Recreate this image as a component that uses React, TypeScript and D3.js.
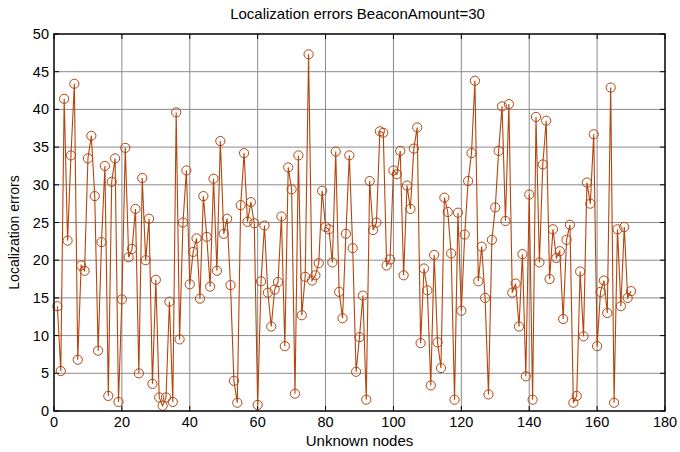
import React from "react";
import * as d3 from "d3";

const title = "Localization errors BeaconAmount=30";
const xLabel = "Unknown nodes";
const yLabel = "Localization errors";
const xTicks = [0, 20, 40, 60, 80, 100, 120, 140, 160, 180];
const yTicks = [0, 5, 10, 15, 20, 25, 30, 35, 40, 45, 50];

const errors = [
  13.9, 5.3, 41.4, 22.6, 33.9, 43.4, 6.8, 19.3, 18.6, 33.5,
  36.5, 28.5, 8.0, 22.4, 32.5, 2.0, 30.4, 33.5, 1.2, 14.8,
  34.9, 20.4, 21.5, 26.8, 5.0, 30.9, 20.0, 25.5, 3.6, 17.4,
  1.8, 0.7, 1.8, 14.5, 1.2, 39.6, 9.5, 25.0, 31.9, 16.8,
  21.1, 22.9, 14.9, 28.5, 23.1, 16.5, 30.8, 18.6, 35.8, 23.5,
  25.5, 16.7, 4.0, 1.1, 27.3, 34.2, 25.1, 27.7, 24.9, 0.8,
  17.2, 24.6, 15.7, 11.2, 16.1, 17.1, 25.8, 8.6, 32.3, 29.4,
  2.3, 33.9, 12.7, 17.8, 47.3, 17.3, 18.0, 19.6, 29.2, 24.4,
  24.1, 19.7, 34.4, 15.8, 12.3, 23.5, 33.9, 21.6, 5.2, 9.8,
  15.3, 1.5, 30.5, 24.0, 25.0, 37.1, 36.9, 19.3, 20.1, 31.9,
  31.4, 34.5, 18.0, 29.9, 26.8, 34.8, 37.6, 9.0, 18.9, 16.0,
  3.4, 20.7, 9.1, 5.7, 28.3, 26.4, 20.9, 1.5, 26.3, 13.3,
  23.4, 30.5, 34.2, 43.8, 17.2, 21.8, 15.0, 2.2, 22.7, 27.0,
  34.5, 40.4, 25.2, 40.7, 15.7, 16.9, 11.2, 20.8, 4.6, 28.7,
  1.5, 39.0, 19.7, 32.7, 38.5, 17.5, 24.1, 20.3, 21.2, 12.2,
  22.7, 24.7, 1.1, 2.0, 18.5, 9.9, 30.3, 27.5, 36.7, 8.6,
  15.8, 17.3, 13.0, 42.9, 1.1, 24.1, 13.9, 24.4, 15.0, 15.9,
];

const W = 680;
const H = 452;
const M = { left: 54, right: 665, top: 34, bottom: 411 };
const color = "#b5450e";
const font = "'Liberation Sans', Arial, Helvetica, sans-serif";

export default function App() {
  const x = d3.scaleLinear().domain([0, 180]).range([M.left, M.right]);
  const y = d3.scaleLinear().domain([0, 50]).range([M.bottom, M.top]);
  const pts = errors.map((v, i) => [i + 1, v] as [number, number]);
  const line = d3
    .line<[number, number]>()
    .x((d) => x(d[0]))
    .y((d) => y(d[1]));
  const tickLen = 5;

  return (
    <svg
      width={W}
      height={H}
      style={{ position: "absolute", left: 0, top: 0, background: "#fff" }}
      fontFamily={font}
    >
      <rect x={0} y={0} width={W} height={H} fill="#fff" />
      {xTicks.slice(1, -1).map((t) => (
        <line key={"gx" + t} x1={x(t)} x2={x(t)} y1={M.top} y2={M.bottom} stroke="#8a8a8a" strokeWidth={1} />
      ))}
      {yTicks.slice(1, -1).map((t) => (
        <line key={"gy" + t} x1={M.left} x2={M.right} y1={y(t)} y2={y(t)} stroke="#8a8a8a" strokeWidth={1} />
      ))}
      {xTicks.map((t) => (
        <g key={"tx" + t}>
          <line x1={x(t)} x2={x(t)} y1={M.bottom} y2={M.bottom - tickLen} stroke="#000" />
          <line x1={x(t)} x2={x(t)} y1={M.top} y2={M.top + tickLen} stroke="#000" />
        </g>
      ))}
      {yTicks.map((t) => (
        <g key={"ty" + t}>
          <line x1={M.left} x2={M.left + tickLen} y1={y(t)} y2={y(t)} stroke="#000" />
          <line x1={M.right} x2={M.right - tickLen} y1={y(t)} y2={y(t)} stroke="#000" />
        </g>
      ))}
      <path d={line(pts) || ""} fill="none" stroke={color} strokeWidth={1.1} />
      {pts.map((p, i) => (
        <circle key={i} cx={x(p[0])} cy={y(p[1])} r={4.6} fill="none" stroke={color} strokeWidth={1} />
      ))}
      <rect x={M.left} y={M.top} width={M.right - M.left} height={M.bottom - M.top} fill="none" stroke="#000" strokeWidth={1.5} />
      {xTicks.map((t) => (
        <text key={"lx" + t} x={x(t)} y={M.bottom + 16} textAnchor="middle" fontSize={14.5} fill="#000">
          {t}
        </text>
      ))}
      {yTicks.map((t) => (
        <text key={"ly" + t} x={M.left - 5} y={y(t) + 5} textAnchor="end" fontSize={14.5} fill="#000">
          {t}
        </text>
      ))}
      <text x={(M.left + M.right) / 2 - 2} y={19} textAnchor="middle" fontSize={15} fill="#000">
        {title}
      </text>
      <text x={(M.left + M.right) / 2} y={446} textAnchor="middle" fontSize={15} fill="#000">
        {xLabel}
      </text>
      <text
        transform={`translate(19, ${(M.top + M.bottom) / 2 + 10}) rotate(-90)`}
        textAnchor="middle"
        fontSize={14}
        fill="#000"
      >
        {yLabel}
      </text>
    </svg>
  );
}
